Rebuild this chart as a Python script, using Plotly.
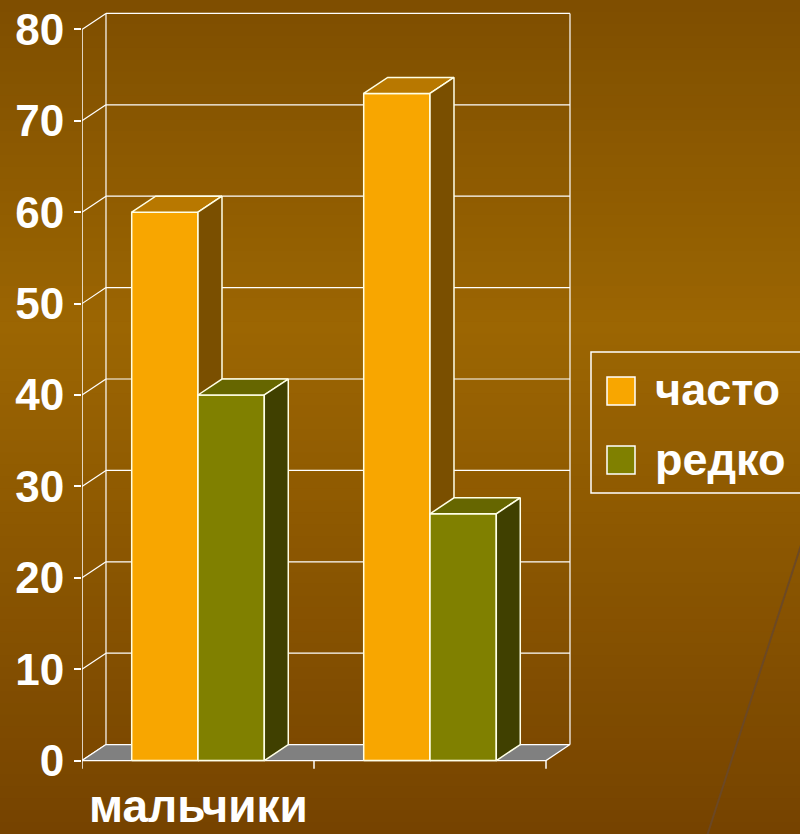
import plotly.graph_objects as go

# ---------------- data ----------------
categories = ["мальчики", "девочки"]
series_names = ["часто", "редко"]
often_values = [60, 73]
rarely_values = [40, 27]
y_ticks = [0, 10, 20, 30, 40, 50, 60, 70, 80]
# only the first category label is drawn (the chart skips alternate labels)
shown_category_labels = ["мальчики", ""]

# ---------------- styles ----------------
W, H = 800, 834
L, R, T, B = 82, 225, 2, 46
X_RANGE = [0, 2.125]
Y_RANGE = [-3, 83]
DX = 0.1034        # 3D depth offset in x units
DY = 1.75          # 3D depth offset in y units
BAR_W = 1 / 3.5    # gap width 150 %
EDGE = "#FFFFE6"
GRID = "#FFFFFF"
FACE = {
    "часто": ("#F8A600", "#B87800", "#7A4F00"),
    "редко": ("#808000", "#666600", "#404000"),
}
FONT = "Liberation Sans, Arial, sans-serif"

fig = go.Figure()


def poly(xs, ys, fill, lw=1.5, color=EDGE):
    fig.add_trace(go.Scatter(
        x=list(xs) + [xs[0]], y=list(ys) + [ys[0]], mode="lines",
        fill="toself", fillcolor=fill, line=dict(color=color, width=lw),
        showlegend=False, hoverinfo="skip"))


def seg(xs, ys, color=GRID, lw=1.2):
    fig.add_trace(go.Scatter(x=xs, y=ys, mode="lines",
                             line=dict(color=color, width=lw),
                             showlegend=False, hoverinfo="skip"))


n = len(categories)
ymax = y_ticks[-1]

# back wall grid + left wall diagonals
for v in y_ticks:
    if v > 0:
        seg([DX, n + DX], [v + DY, v + DY])
    seg([0, DX], [v, v + DY])
seg([DX, DX], [DY, ymax + DY])
seg([n + DX, n + DX], [DY, ymax + DY])

# floor
poly([0, n, n + DX, DX], [0, 0, DY, DY], "#808080", lw=1.2, color=GRID)

# front value axis line
seg([0, 0], [0, ymax], lw=1.5)
# category tick marks
for i in range(n + 1):
    seg([i, i], [0, -0.9], lw=1.5)

# bars
for i in range(n):
    for s, (name, vals) in enumerate(zip(series_names, [often_values, rarely_values])):
        v = vals[i]
        x0 = i + 0.5 + (s - 1) * BAR_W
        x1 = x0 + BAR_W
        front, top, side = FACE[name]
        poly([x0, x1, x1, x0], [0, 0, v, v], front)
        poly([x0, x1, x1 + DX, x0 + DX], [v, v, v + DY, v + DY], top)
        poly([x1, x1 + DX, x1 + DX, x1], [0, DY, v + DY, v], side)

# ---------------- helpers for pixel placement of slide decorations ----------------
pw = W - L - R
ph = H - T - B


def px_x(p):
    return (p - L) / pw


def px_y(p):
    return (H - B - p) / ph


# background gradient (slide)
stops = [(0, (126, 78, 0)), (330, (156, 102, 2)), (834, (118, 67, 0))]


def col_at(p):
    for (a, ca), (b, cb) in zip(stops[:-1], stops[1:]):
        if a <= p <= b:
            t = (p - a) / (b - a)
            return "rgb(%d,%d,%d)" % tuple(round(ca[k] + (cb[k] - ca[k]) * t) for k in range(3))
    return "rgb(%d,%d,%d)" % stops[-1][1]


shapes = []
nb = 70
for k in range(nb):
    y0 = H * k / nb
    y1 = H * (k + 1) / nb + 1
    shapes.append(dict(type="rect", xref="paper", yref="paper", layer="below",
                       x0=px_x(-5), x1=px_x(W + 5), y0=px_y(y1), y1=px_y(y0),
                       fillcolor=col_at((y0 + y1) / 2), line=dict(width=0)))
shapes.append(dict(type="line", xref="paper", yref="paper", layer="below",
                   x0=px_x(802), y0=px_y(542), x1=px_x(707), y1=px_y(836),
                   line=dict(color="rgba(105,72,40,0.9)", width=2)))

annotations = []

# category labels (under the category axis)
for i, lab in enumerate(shown_category_labels):
    if lab:
        annotations.append(dict(xref="x", yref="paper", x=i + 0.5, y=px_y(806),
                                xanchor="center", yanchor="middle", showarrow=False,
                                text=lab,
                                font=dict(size=46, family=FONT, color="#FFFFFF", weight="bold")))

# ---------------- legend (drawn as box + squares + text) ----------------
shapes.append(dict(type="rect", xref="paper", yref="paper",
                   x0=px_x(591), x1=px_x(812), y0=px_y(493), y1=px_y(352),
                   line=dict(color="#FFFFFF", width=1.5), fillcolor="rgba(0,0,0,0)"))
leg_rows = [(377, 389), (446, 459)]
for name, (sq_top, txt_mid) in zip(series_names, leg_rows):
    shapes.append(dict(type="rect", xref="paper", yref="paper",
                       x0=px_x(607), x1=px_x(635), y0=px_y(sq_top + 28), y1=px_y(sq_top),
                       fillcolor=FACE[name][0], line=dict(color="#FFFFFF", width=1.5)))
    annotations.append(dict(xref="paper", yref="paper", x=px_x(653), y=px_y(txt_mid),
                            xanchor="left", yanchor="middle", showarrow=False, text=name,
                            font=dict(size=45, family=FONT, color="#FFFFFF", weight="bold")))

fig.update_layout(
    width=W, height=H, autosize=False,
    margin=dict(l=L, r=R, t=T, b=B, pad=0, autoexpand=False),
    paper_bgcolor="rgb(126,78,0)", plot_bgcolor="rgba(0,0,0,0)",
    shapes=shapes, annotations=annotations,
    font=dict(family=FONT, color="#FFFFFF"),
    showlegend=False,
    xaxis=dict(range=X_RANGE, showgrid=False, zeroline=False, showline=False,
               automargin=False, showticklabels=False, ticks="",
               fixedrange=True),
    yaxis=dict(range=Y_RANGE, showgrid=False, zeroline=False, showline=False,
               automargin=False,
               tickmode="array", tickvals=y_ticks, ticktext=[str(v) for v in y_ticks],
               ticks="outside", ticklen=7, tickwidth=1.5, tickcolor="#FFFFFF",
               ticklabelstandoff=1,
               tickfont=dict(size=44, family=FONT, color="#FFFFFF", weight="bold"),
               fixedrange=True),
)

fig.write_html("out.html", config={"displayModeBar": False},
               post_script="document.body.style.margin='0';document.body.style.overflow='hidden';")
